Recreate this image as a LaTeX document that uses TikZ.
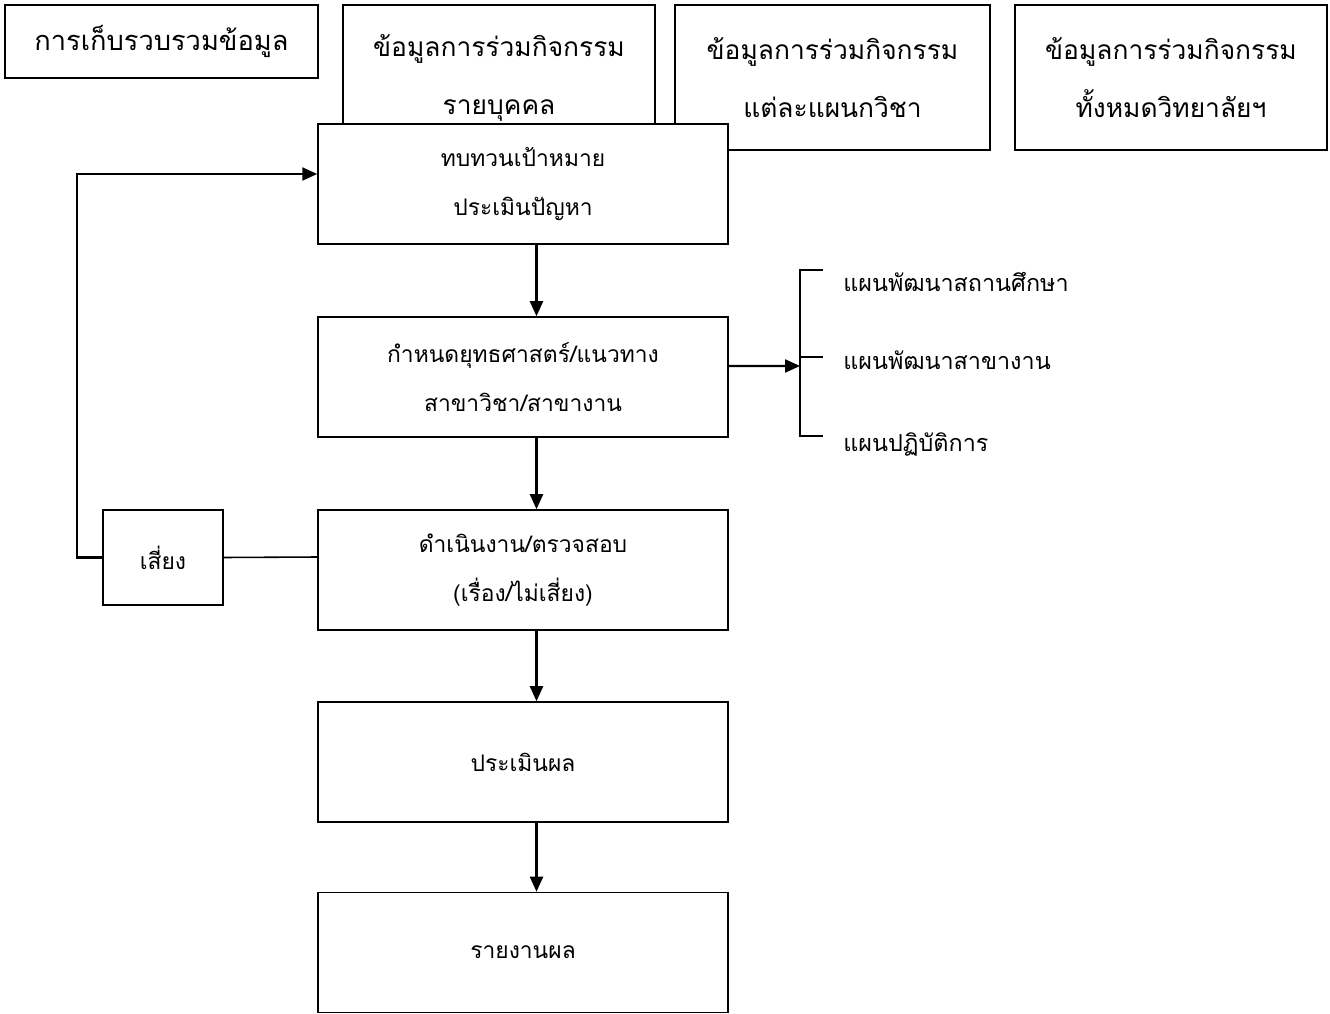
\documentclass[tikz,border=0pt]{standalone}
\usepackage{fontspec}
\newfontfamily\thaifont[Script=Thai]{Loma}
\usetikzlibrary{arrows.meta, calc}
\tikzset{
  flowArrow/.style={-{Triangle[length=3mm, width=2.6mm]}, line width=1.3pt},
  plainLine/.style={line width=0.9pt},
  % --- box styles ---
  boxBase/.style={draw=black, line width=0.9pt, fill=white, rectangle, align=center, inner sep=0pt},
  topBox/.style={boxBase, minimum width=6.25cm, minimum height=2.9cm,
    font=\thaifont\fontsize{15}{33}\selectfont},
  flowBox/.style={boxBase, minimum width=8.2cm, minimum height=2.4cm,
    font=\thaifont\fontsize{13}{28}\selectfont},
  planLabel/.style={anchor=west, inner sep=0pt, font=\thaifont\fontsize{13.3}{16}\selectfont}
}
\begin{document}
\begin{tikzpicture}[x=0.02cm, y=-0.02cm]
  \useasboundingbox (0,0) rectangle (1330,1014);

  %% --- TOP ROW ---
  \node[topBox, minimum height=1.46cm, font=\thaifont\fontsize{15.5}{33}\selectfont] (collect) at (161.5,41.5) {การเก็บรวบรวมข้อมูล};
  \node[topBox] (person) at (499,77.5) {ข้อมูลการร่วมกิจกรรม\\รายบุคคล};
  \node[topBox, minimum width=6.3cm] (dept) at (832.5,77.5) {ข้อมูลการร่วมกิจกรรม\\แต่ละแผนกวิชา};
  \node[topBox] (college) at (1171,77.5) {ข้อมูลการร่วมกิจกรรม\\ทั้งหมดวิทยาลัยฯ};

  %% --- MAIN COLUMN ---
  \node[flowBox] (review) at (523,184) {ทบทวนเป้าหมาย\\ประเมินปัญหา};
  \node[flowBox] (strategy) at (523,377) {กำหนดยุทธศาสตร์/แนวทาง\\สาขาวิชา/สาขางาน};
  \node[flowBox] (operate) at (523,570) {ดำเนินงาน/ตรวจสอบ\\(เรื่อง/ไม่เสี่ยง)};
  \node[flowBox] (evaluate) at (523,762) {ประเมินผล};
  \node[flowBox] (report) at (523,952.5) {รายงานผล};

  % Flow arrows (a bit right of centre)
  \foreach \a/\b in {review/strategy, strategy/operate, operate/evaluate, evaluate/report} {
    \draw[flowArrow] ([xshift=0.27cm]\a.south) -- ([xshift=0.27cm]\b.north);
  }

  %% --- RISK LOOP ---
  \node[flowBox, minimum width=2.4cm, minimum height=1.9cm] (risk) at (163,557.5) {เสี่ยง};
  \draw[plainLine] ([yshift=0.26cm]operate.west) -- (risk.east);
  \draw[flowArrow] (risk.west) -- ++(-25,0) |- ([yshift=0.2cm]review.west);

  %% --- PLANS ---
  \coordinate (bracket) at (800,366);
  \draw[flowArrow] ([yshift=0.22cm]strategy.east) -- (bracket);
  \draw[plainLine] (823,270) -- (800,270) -- (800,436) -- (823,436);
  \draw[plainLine] (800,357) -- (823,357);

  \node[planLabel] (planSchool) at (843,282) {แผนพัฒนาสถานศึกษา};
  \node[planLabel] (planField) at (843,360) {แผนพัฒนาสาขางาน};
  \node[planLabel] (planAction) at (843,444) {แผนปฏิบัติการ};
\end{tikzpicture}
\end{document}
